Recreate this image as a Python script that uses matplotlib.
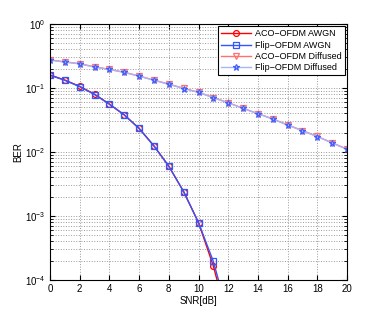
import matplotlib
matplotlib.use('Agg')
import matplotlib.pyplot as plt
import numpy as np

plt.rcParams['font.family'] = ['Liberation Sans', 'DejaVu Sans']
plt.rcParams['font.size'] = 7

# SNR 轴
snr = list(range(0, 21))

# AWGN 信道
aco_awgn = [0.160, 0.133, 0.106, 0.080, 0.056, 0.038, 0.0234, 0.0125, 0.0060, 0.0024, 7.9e-4, 1.65e-4, 2.2e-5]
flip_awgn = [0.158, 0.132, 0.105, 0.079, 0.056, 0.038, 0.0233, 0.0124, 0.0060, 0.0024, 7.9e-4, 1.95e-4, 2.8e-5]

# 漫射信道
aco_diff = [0.275, 0.256, 0.240, 0.214, 0.196, 0.176, 0.154, 0.133, 0.115, 0.099, 0.0858,
            0.0708, 0.0590, 0.0481, 0.0398, 0.0329, 0.0265, 0.0216, 0.0175, 0.0139, 0.0111]
flip_diff = [0.272, 0.254, 0.238, 0.212, 0.195, 0.175, 0.153, 0.132, 0.114, 0.098, 0.0853,
             0.0704, 0.0587, 0.0479, 0.0396, 0.0327, 0.0263, 0.0215, 0.0174, 0.0138, 0.0110]

fig = plt.figure(figsize=(3.83, 3.15), dpi=100)
ax = fig.add_axes([50/383, 35/315, 297/383, 256/315])

n = len(aco_awgn)
ax.semilogy(snr[:n], aco_awgn, '-o', color='#ff0000', lw=1.0, ms=4.2, mfc='none', mew=0.9,
            label='ACO\u2212OFDM AWGN')
ax.semilogy(snr[:n], flip_awgn, '-s', color='#3355ff', lw=1.0, ms=4.2, mfc='none', mew=0.9,
            label='Flip\u2212OFDM AWGN')
ax.semilogy(snr, aco_diff, '-v', color='#ff7070', lw=1.0, ms=4.2, mfc='none', mew=0.9,
            label='ACO\u2212OFDM Diffused')
ax.semilogy(snr, flip_diff, '-*', color='#a8b4ff', lw=1.0, ms=4.5, mfc='none', mew=0.9,
            mec='#4060ff', label='Flip\u2212OFDM Diffused')

ax.set_xlim(0, 20)
ax.set_ylim(1e-4, 1)
ax.set_xticks(range(0, 21, 2))
ax.set_xlabel('SNR[dB]', labelpad=1)
ax.set_ylabel('BER', labelpad=1)
ax.grid(True, which='major', ls=':', color='#999999', lw=0.7)
ax.grid(True, which='minor', axis='y', ls=':', color='#999999', lw=0.7)
ax.tick_params(which='both', direction='in', top=True, right=True)
ax.tick_params(axis='x', pad=3)

leg = ax.legend(loc='upper right', fancybox=False, edgecolor='black', framealpha=1,
                borderaxespad=0.25, handlelength=3.3, labelspacing=0.25, borderpad=0.35,
                handletextpad=0.4, fontsize=6.5)
leg.get_frame().set_linewidth(0.8)

fig.savefig('out.png', dpi=100)
